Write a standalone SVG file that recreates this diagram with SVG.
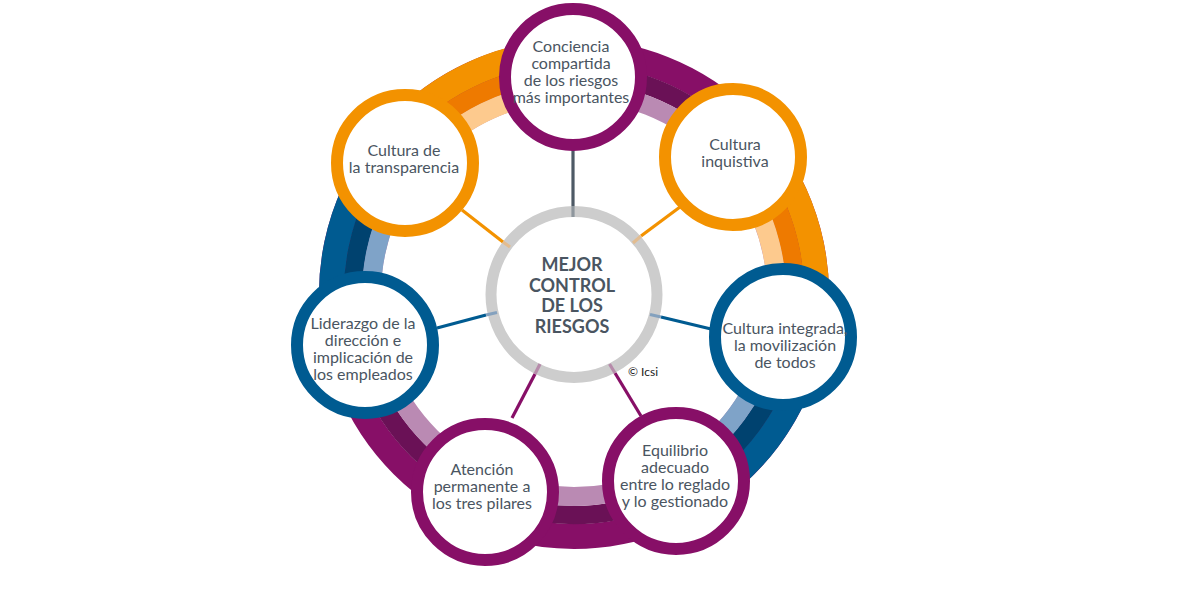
<svg xmlns="http://www.w3.org/2000/svg" width="1200" height="600" viewBox="0 0 1200 600">
  <style>
    .band { fill: none; }
    .node { fill: #ffffff; stroke-width: 12; }
    .pu { stroke: #870F67; }
    .or { stroke: #F39200; }
    .bl { stroke: #005B91; }
    .lbl { font-family: Lato, "Open Sans", "Liberation Sans", sans-serif; font-size: 16px; fill: #4A5561; text-anchor: middle; }
    .ctr { font-family: Lato, "Open Sans", "Liberation Sans", sans-serif; font-size: 18px; font-weight: 700; fill: #4A5561; text-anchor: middle; }
    .con { stroke-width: 3.2; fill: none; }
    .tint { stroke-width: 3.2; fill: none; }
  </style>
  <rect width="1200" height="600" fill="#ffffff"/>

  <!-- outer ring -->
  <g id="ring">
    <circle class="band" cx="574" cy="294" r="242.5" stroke="#870F67" stroke-width="25"/>
    <circle class="band" cx="574" cy="294" r="221" stroke="#6A1156" stroke-width="18.5"/>
    <circle class="band" cx="574" cy="294" r="202.5" stroke="#BA8AB3" stroke-width="19"/>
    <g transform="rotate(-40.75 574 294)">
      <circle class="band" cx="574" cy="294" r="242.5" pathLength="360" stroke-dasharray="52.35 307.65" stroke="#F39200" stroke-width="25"/>
      <circle class="band" cx="574" cy="294" r="221" pathLength="360" stroke-dasharray="52.35 307.65" stroke="#EE7A00" stroke-width="18.5"/>
      <circle class="band" cx="574" cy="294" r="202.5" pathLength="360" stroke-dasharray="52.35 307.65" stroke="#FDCA8E" stroke-width="19"/>
    </g>
    <g transform="rotate(217.8 574 294)">
      <circle class="band" cx="574" cy="294" r="242.5" pathLength="360" stroke-dasharray="52.2 307.8" stroke="#F39200" stroke-width="25"/>
      <circle class="band" cx="574" cy="294" r="221" pathLength="360" stroke-dasharray="52.2 307.8" stroke="#EE7A00" stroke-width="18.5"/>
      <circle class="band" cx="574" cy="294" r="202.5" pathLength="360" stroke-dasharray="52.2 307.8" stroke="#FDCA8E" stroke-width="19"/>
    </g>
    <g transform="rotate(11.6 574 294)">
      <circle class="band" cx="574" cy="294" r="242.5" pathLength="360" stroke-dasharray="49.8 310.2" stroke="#005B91" stroke-width="25"/>
      <circle class="band" cx="574" cy="294" r="221" pathLength="360" stroke-dasharray="49.8 310.2" stroke="#00426F" stroke-width="18.5"/>
      <circle class="band" cx="574" cy="294" r="202.5" pathLength="360" stroke-dasharray="49.8 310.2" stroke="#7FA3C8" stroke-width="19"/>
    </g>
    <g transform="rotate(166.3 574 294)">
      <circle class="band" cx="574" cy="294" r="242.5" pathLength="360" stroke-dasharray="51.5 308.5" stroke="#005B91" stroke-width="25"/>
      <circle class="band" cx="574" cy="294" r="221" pathLength="360" stroke-dasharray="51.5 308.5" stroke="#00426F" stroke-width="18.5"/>
      <circle class="band" cx="574" cy="294" r="202.5" pathLength="360" stroke-dasharray="51.5 308.5" stroke="#7FA3C8" stroke-width="19"/>
    </g>
  </g>

  <!-- center node -->
  <g id="center">
    <circle cx="574" cy="294.5" r="83" fill="#ffffff" stroke="#CDCDCD" stroke-width="11"/>
    <text class="ctr" x="572" y="271">MEJOR</text>
    <text class="ctr" x="572" y="291.7">CONTROL</text>
    <text class="ctr" x="572" y="312.3">DE LOS</text>
    <text class="ctr" x="572" y="333">RIESGOS</text>
  </g>

  <!-- connectors -->
  <g id="connectors">
    <line class="con" x1="573" y1="150" x2="573" y2="206" stroke="#4E5A66"/>
    <line class="tint" x1="573" y1="206" x2="573" y2="217" stroke="#8E969D"/>

    <line class="con" x1="680" y1="207" x2="641" y2="236" stroke="#F39200"/>
    <line class="tint" x1="641" y1="236" x2="633" y2="243" stroke="#E2BC90"/>

    <line class="con" x1="711" y1="329" x2="661" y2="317" stroke="#005B91"/>
    <line class="tint" x1="661" y1="317" x2="650" y2="314.5" stroke="#84A1BE"/>

    <line class="con" x1="641" y1="416" x2="615" y2="373" stroke="#870F67"/>
    <line class="tint" x1="615" y1="373" x2="609.5" y2="364" stroke="#B68BAA"/>

    <line class="con" x1="512" y1="418" x2="535" y2="374" stroke="#870F67"/>
    <line class="tint" x1="535" y1="374" x2="540" y2="364" stroke="#B68BAA"/>

    <line class="con" x1="437" y1="328" x2="486" y2="315" stroke="#005B91"/>
    <line class="tint" x1="486" y1="315" x2="497" y2="312.5" stroke="#84A1BE"/>

    <line class="con" x1="462" y1="210" x2="503" y2="242" stroke="#F39200"/>
    <line class="tint" x1="503" y1="242" x2="510" y2="247" stroke="#E2BC90"/>
  </g>

  <!-- outer nodes -->
  <g id="node-conciencia">
    <circle class="node pu" cx="573" cy="77" r="68"/>
    <text class="lbl" x="571" y="52">Conciencia</text>
    <text class="lbl" x="571" y="69">compartida</text>
    <text class="lbl" x="571" y="86">de los riesgos</text>
    <text class="lbl" x="571" y="103">más importantes</text>
  </g>
  <g id="node-inquistiva">
    <circle class="node or" cx="733" cy="157" r="68"/>
    <text class="lbl" x="735" y="150">Cultura</text>
    <text class="lbl" x="735" y="167">inquistiva</text>
  </g>
  <g id="node-integrada">
    <circle class="node bl" cx="783" cy="337" r="68"/>
    <text class="lbl" x="785" y="334">Cultura integrada,</text>
    <text class="lbl" x="785" y="351">la movilización</text>
    <text class="lbl" x="785" y="368">de todos</text>
  </g>
  <g id="node-equilibrio">
    <circle class="node pu" cx="676" cy="481" r="68"/>
    <text class="lbl" x="675" y="455.5">Equilibrio</text>
    <text class="lbl" x="675" y="472.5">adecuado</text>
    <text class="lbl" x="675" y="489.5">entre lo reglado</text>
    <text class="lbl" x="675" y="506.5">y lo gestionado</text>
  </g>
  <g id="node-atencion">
    <circle class="node pu" cx="485" cy="492" r="68"/>
    <text class="lbl" x="482" y="475">Atención</text>
    <text class="lbl" x="482" y="492">permanente a</text>
    <text class="lbl" x="482" y="509">los tres pilares</text>
  </g>
  <g id="node-liderazgo">
    <circle class="node bl" cx="365" cy="345" r="68"/>
    <text class="lbl" x="363" y="328.5">Liderazgo de la</text>
    <text class="lbl" x="363" y="345.5">dirección e</text>
    <text class="lbl" x="363" y="362.5">implicación de</text>
    <text class="lbl" x="363" y="379.5">los empleados</text>
  </g>
  <g id="node-transparencia">
    <circle class="node or" cx="405" cy="163" r="68"/>
    <text class="lbl" x="404" y="156">Cultura de</text>
    <text class="lbl" x="404" y="173">la transparencia</text>
  </g>

  <text x="628" y="376" font-family="Lato, 'Open Sans', 'Liberation Sans', sans-serif" font-size="12" fill="#222222">© Icsi</text>
</svg>
